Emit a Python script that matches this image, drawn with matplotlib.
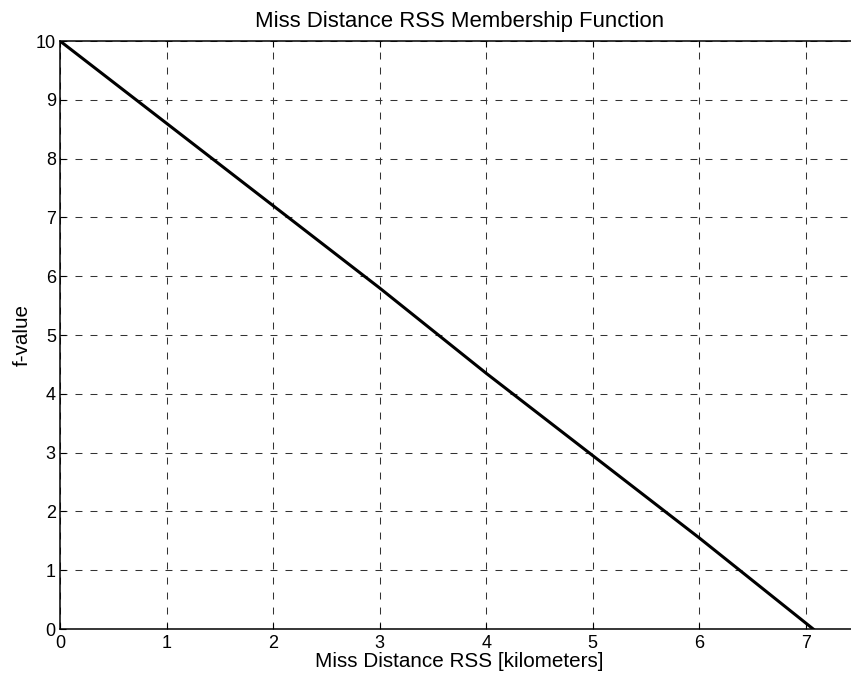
import matplotlib
matplotlib.use("Agg")
import matplotlib.pyplot as plt

# values
miss_distance = [0.0, 1.0, 2.0, 3.0, 4.0, 5.0, 6.0, 7.07]
f_value = [10.0, 8.6, 7.2, 5.8, 4.35, 2.95, 1.55, 0.0]
x_ticks = [0, 1, 2, 3, 4, 5, 6, 7]
y_ticks = [0, 1, 2, 3, 4, 5, 6, 7, 8, 9, 10]

plt.rcParams['font.family'] = ['Liberation Sans', 'DejaVu Sans']
plt.rcParams['lines.scale_dashes'] = False

fig = plt.figure(figsize=(8.51, 6.75), dpi=100)
# the original is cropped on the right, so the right spine sits just past the edge
ax = fig.add_axes([60 / 851, 46 / 675, 799 / 851, 588 / 675])

ax.plot(miss_distance, f_value, color='black', linewidth=2.2)

ax.set_xlim(0, 7.5)
ax.set_ylim(0, 10)
ax.set_xticks(x_ticks)
ax.set_yticks(y_ticks)
ax.tick_params(direction='in', length=4.3, width=0.8, labelsize=13, pad=3,
               top=True, right=True, colors='black')
ax.tick_params(axis='x', pad=4.5)
ax.grid(True, color='#333333', linestyle=(0, (5, 5.8)), linewidth=0.75)
for side in ax.spines.values():
    side.set_linewidth(1.1)

ax.set_title("Miss Distance RSS Membership Function", fontsize=15.9, pad=10)
ax.set_xlabel("Miss Distance RSS [kilometers]", fontsize=14.9, labelpad=0)
ax.set_ylabel("f-value", fontsize=14.9, labelpad=3)

fig.savefig("out.png", dpi=100)
